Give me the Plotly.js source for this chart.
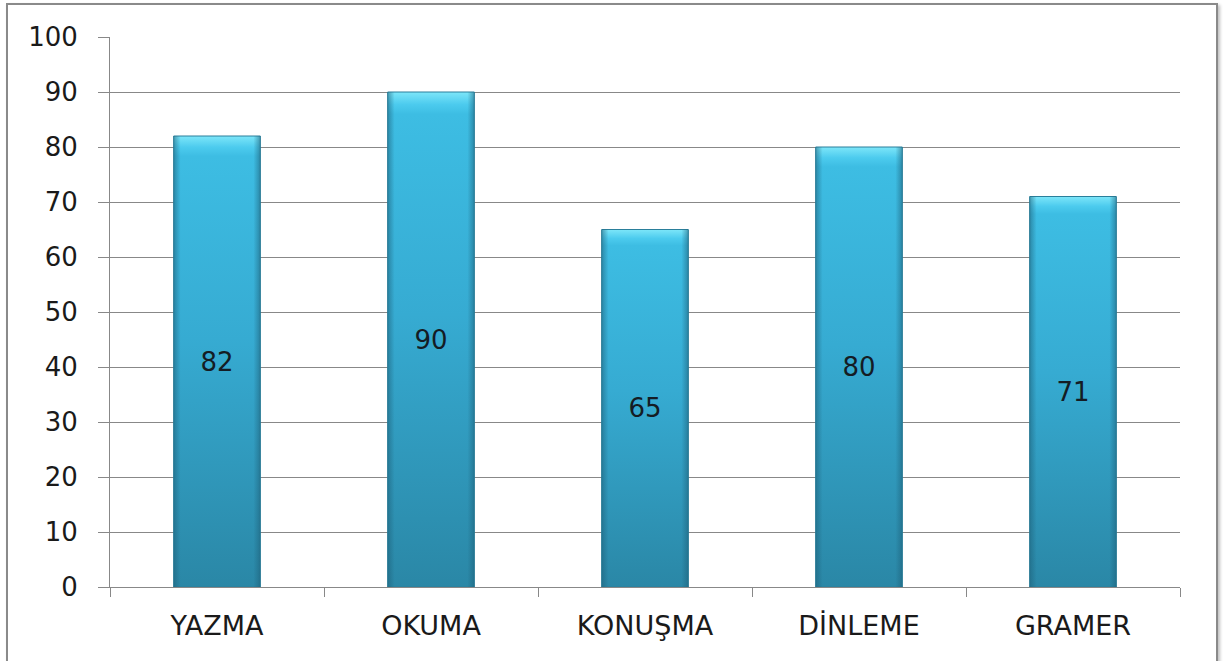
<!DOCTYPE html>
<html>
<head>
<meta charset="utf-8">
<script src="https://cdn.plot.ly/plotly-3.0.1.min.js"></script>
<style>
  html, body { margin: 0; padding: 0; background: #ffffff; overflow: hidden; }
  #wrap { position: relative; width: 1224px; height: 661px; overflow: hidden; }
  #chart { position: absolute; left: 0; top: 0; width: 1224px; height: 661px; }
  #frame { position: absolute; left: 6px; top: 3px; width: 1208px; height: 680px;
           border: 2px solid #8a8a8a; box-shadow: 2px 2px 3px rgba(0,0,0,0.25); pointer-events: none; }
</style>
</head>
<body>
<div id="wrap">
  <div id="chart"></div>
  <div id="frame"></div>
</div>
<script>
const categories = ["YAZMA", "OKUMA", "KONUŞMA", "DİNLEME", "GRAMER"];
const scores = [82, 90, 65, 80, 71];
const yTicks = [0, 10, 20, 30, 40, 50, 60, 70, 80, 90, 100];

const FONT = "'DejaVu Sans', 'Open Sans', sans-serif";

const trace = {
  type: "bar",
  x: categories,
  y: scores,
  text: scores.map(String),
  textposition: "inside",
  insidetextanchor: "middle",
  textangle: 0,
  textfont: { family: FONT, size: 26, color: "#141c24" },
  marker: { color: "#38b3d8", line: { color: "#2a7f9b", width: 1 } },
  width: 0.405,
  hoverinfo: "x+y"
};

const layout = {
  width: 1224,
  height: 661,
  margin: { l: 110, r: 44, t: 37, b: 74 },
  paper_bgcolor: "#ffffff",
  plot_bgcolor: "#ffffff",
  showlegend: false,
  font: { family: FONT, size: 25, color: "#1a1a1a" },
  xaxis: {
    type: "category",
    tickson: "boundaries",
    ticks: "outside",
    ticklen: 9,
    tickcolor: "#888888",
    tickwidth: 1,
    showline: true,
    linecolor: "#888888",
    linewidth: 1,
    showgrid: false,
    ticklabelstandoff: 15,
    tickfont: { family: FONT, size: 27, color: "#1a1a1a" }
  },
  yaxis: {
    range: [0, 100],
    tickvals: yTicks,
    ticktext: yTicks.map(String),
    ticks: "outside",
    ticklen: 11,
    tickcolor: "#888888",
    tickwidth: 1,
    showline: true,
    linecolor: "#888888",
    linewidth: 1,
    showgrid: true,
    gridcolor: "#888888",
    gridwidth: 1,
    zeroline: false,
    ticklabelstandoff: 15,
    tickfont: { family: FONT, size: 26, color: "#1a1a1a" }
  }
};

Plotly.newPlot("chart", [trace], layout, { displayModeBar: false, staticPlot: true }).then(function (gd) {
  const svg = gd.querySelector("svg.main-svg");
  const ns = "http://www.w3.org/2000/svg";
  let defs = svg.querySelector("defs");
  if (!defs) { defs = document.createElementNS(ns, "defs"); svg.insertBefore(defs, svg.firstChild); }
  function makeGrad(id, x2, y2, stops) {
    const grad = document.createElementNS(ns, "linearGradient");
    grad.setAttribute("id", id);
    grad.setAttribute("x1", "0"); grad.setAttribute("y1", "0");
    grad.setAttribute("x2", x2); grad.setAttribute("y2", y2);
    stops.forEach(function (s) {
      const st = document.createElementNS(ns, "stop");
      st.setAttribute("offset", s[0]); st.setAttribute("stop-color", s[1]);
      st.setAttribute("stop-opacity", s[2] === undefined ? 1 : s[2]);
      grad.appendChild(st);
    });
    defs.appendChild(grad);
  }
  makeGrad("barGrad", "0", "1", [["0", "#7de6f9"], ["0.025", "#4ccbee"], ["0.045", "#3dbde3"], ["0.45", "#36abd2"], ["1", "#2a87a6"]]);
  makeGrad("edgeGrad", "1", "0", [["0", "#1d5f78", 0.55], ["0.08", "#1d5f78", 0.0], ["0.92", "#1d5f78", 0.0], ["1", "#1d5f78", 0.55]]);
  gd.querySelectorAll(".point path").forEach(function (p) {
    p.style.fill = "url(#barGrad)";
    const c = p.cloneNode(true);
    c.style.fill = "url(#edgeGrad)";
    c.style.stroke = "none";
    p.parentNode.insertBefore(c, p.nextSibling);
  });
});
</script>
</body>
</html>
